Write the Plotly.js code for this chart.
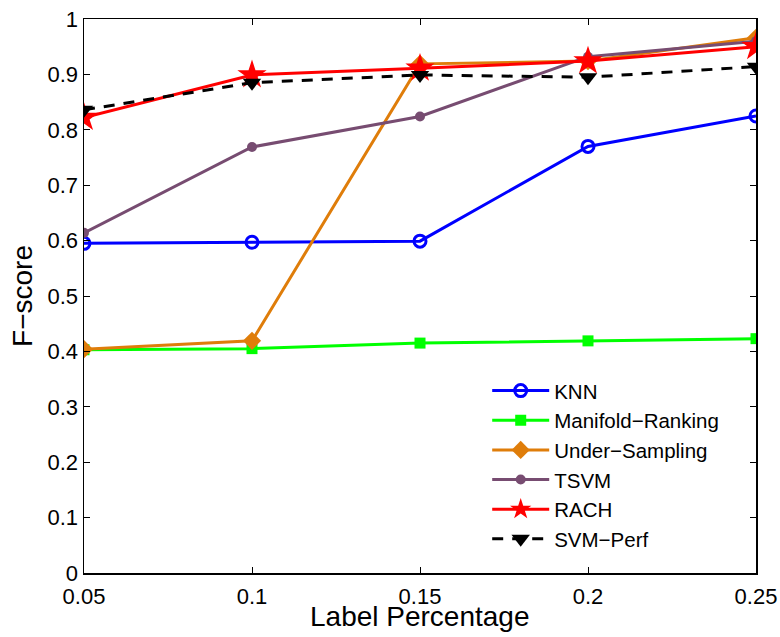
<!DOCTYPE html>
<html><head><meta charset="utf-8">
<script src="https://cdn.plot.ly/plotly-3.0.1.min.js"></script>
<style>body{margin:0;background:#fff}#chart{width:780px;height:637px}</style>
</head><body><div id="chart"></div>
<script>
const labelPct = [0.05, 0.1, 0.15, 0.2, 0.25];
const xTickText = ['0.05', '0.1', '0.15', '0.2', '0.25'];
const yTickVals = [0, 0.1, 0.2, 0.3, 0.4, 0.5, 0.6, 0.7, 0.8, 0.9, 1];
const yTickText = ['0', '0.1', '0.2', '0.3', '0.4', '0.5', '0.6', '0.7', '0.8', '0.9', '1'];
const knn = [0.595, 0.597, 0.599, 0.770, 0.825];
const manifoldRanking = [0.403, 0.405, 0.415, 0.419, 0.423];
const underSampling = [0.404, 0.419, 0.919, 0.924, 0.966];
const tsvm = [0.614, 0.769, 0.824, 0.932, 0.960];
const rach = [0.822, 0.899, 0.911, 0.924, 0.950];
const svmPerf = [0.836, 0.885, 0.899, 0.895, 0.914];

const traces = [
  {name: 'KNN', y: knn, line: {color: '#0000ff', width: 3}, marker: {symbol: 'circle-open', size: 12, color: '#0000ff', line: {width: 3, color: '#0000ff'}}},
  {name: 'Manifold\u2212Ranking', y: manifoldRanking, line: {color: '#00ff00', width: 3}, marker: {symbol: 'square', size: 11, color: '#00ff00'}},
  {name: 'Under\u2212Sampling', y: underSampling, line: {color: '#df7d0a', width: 3}, marker: {symbol: 'diamond', size: 14, color: '#df7d0a'}},
  {name: 'TSVM', y: tsvm, line: {color: '#774c71', width: 3}, marker: {symbol: 'circle', size: 10, color: '#774c71'}},
  {name: 'RACH', y: rach, line: {color: '#ff0000', width: 3}, marker: {symbol: 'star', size: 22, color: '#ff0000'}},
  {name: 'SVM\u2212Perf', y: svmPerf, line: {color: '#000000', width: 3, dash: '11px,9px'}, marker: {symbol: 'triangle-down', size: 16, color: '#000000'}}
].map(t => Object.assign({x: labelPct, type: 'scatter', mode: 'lines+markers'}, t));

const font = {family: '"Liberation Sans", Arial, sans-serif', color: '#000'};
const layout = {
  width: 780, height: 637,
  margin: {l: 84, r: 24, t: 19, b: 64},
  paper_bgcolor: '#fff', plot_bgcolor: '#fff',
  font: Object.assign({size: 21}, font),
  showlegend: true,
  legend: {x: 0.6, y: 0.365, xanchor: 'left', yanchor: 'top', bgcolor: 'rgba(255,255,255,0)', borderwidth: 0,
           font: Object.assign({size: 20.5}, font), itemwidth: 57, tracegroupgap: 0},
  xaxis: {range: [0.05, 0.25], tickvals: labelPct, ticktext: xTickText, ticks: 'inside', ticklen: 6,
          tickwidth: 1, tickcolor: '#000', showline: true, linecolor: '#000', linewidth: 1.5, mirror: 'allticks',
          showgrid: false, zeroline: false, tickfont: Object.assign({size: 22}, font), automargin: false,
          ticklabelstandoff: 3},
  yaxis: {range: [0, 1], tickvals: yTickVals, ticktext: yTickText, ticks: 'inside', ticklen: 6,
          tickwidth: 1, tickcolor: '#000', showline: true, linecolor: '#000', linewidth: 1.5, mirror: 'allticks',
          showgrid: false, zeroline: false, tickfont: Object.assign({size: 22}, font), automargin: false,
          title: {text: 'F\u2212score', font: Object.assign({size: 28}, font), standoff: 6}},
  annotations: [{text: 'Label Percentage', xref: 'paper', yref: 'paper', x: 0.5, y: 0, xanchor: 'center', yanchor: 'top',
                 yshift: -27, showarrow: false, borderpad: 0, font: Object.assign({size: 28}, font)}]
};
Plotly.newPlot('chart', traces, layout, {displayModeBar: false, staticPlot: true});
</script></body></html>
